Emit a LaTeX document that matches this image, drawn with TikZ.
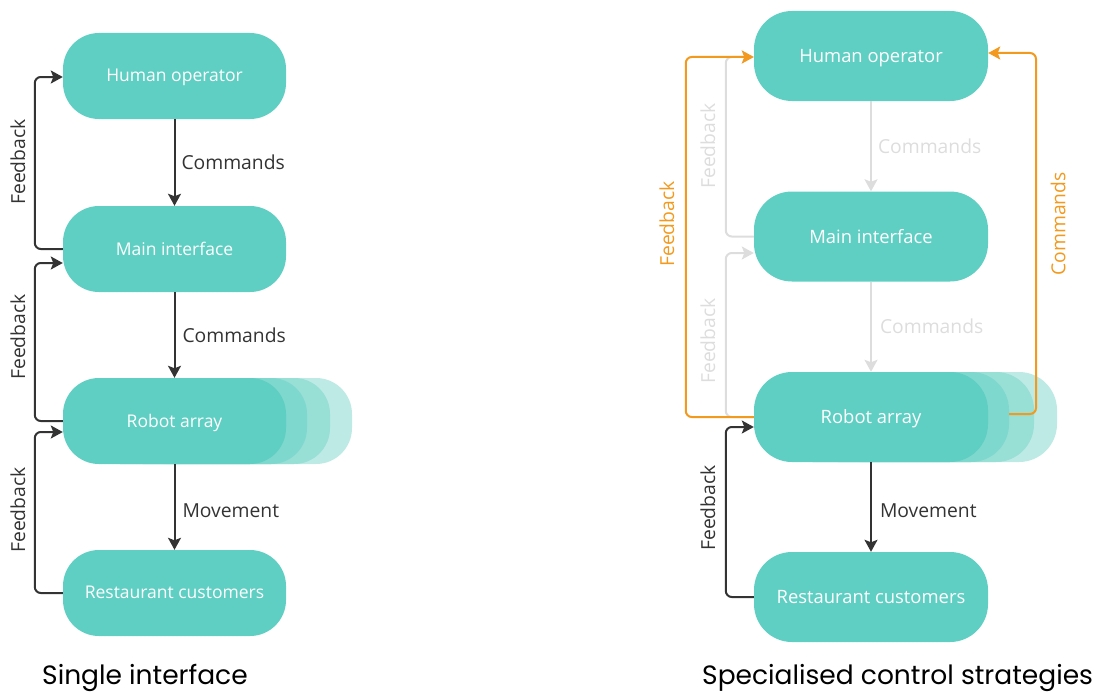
\documentclass[tikz,border=0pt]{standalone}
\usepackage{fontspec}
\usetikzlibrary{arrows.meta,calc}
\newfontfamily\osans{Open Sans}
\newfontfamily\popp{Poppins}
\definecolor{tealA}{HTML}{5FCFC3}
\definecolor{tealB}{HTML}{7FD8CE}
\definecolor{tealC}{HTML}{98DFD6}
\definecolor{tealD}{HTML}{BDEAE4}
\definecolor{darkline}{HTML}{333333}
\definecolor{grayline}{HTML}{DDDDDD}
\definecolor{orangeline}{HTML}{F39A1E}
\begin{document}
\begin{tikzpicture}[x=1pt,y=-1pt,
  boxL/.style={rectangle, rounded corners=36pt, fill=tealA, minimum width=223pt, minimum height=86pt, inner sep=0pt, text=white, text depth=1pt, font=\osans\fontsize{17.5}{20}\selectfont},
  boxR/.style={rectangle, rounded corners=38pt, fill=tealA, minimum width=234pt, minimum height=90pt, inner sep=0pt, text=white, text depth=1pt, font=\osans\fontsize{18.4}{21}\selectfont},
  ghostL/.style={rectangle, rounded corners=36pt, minimum width=223pt, minimum height=86pt, inner sep=0pt},
  ghostR/.style={rectangle, rounded corners=38pt, minimum width=234pt, minimum height=90pt, inner sep=0pt},
  conn/.style={line width=2pt, rounded corners=6pt, -{Stealth[length=12pt,width=13pt,inset=2.5pt]}},
  darkc/.style={conn, draw=darkline},
  grayc/.style={conn, draw=grayline},
  orc/.style={conn, draw=orangeline},
  lbl/.style={font=\osans\fontsize{19.3}{22}\selectfont, text=darkline, inner sep=0pt},
  title/.style={font=\popp\fontsize{26.5}{30}\selectfont, text=black, inner sep=0pt}
]
\useasboundingbox (0,0) rectangle (1100,693);

% ---------------- Left: single interface ----------------
\node[ghostL, fill=tealD] (lra3) at (240.5,421) {};
\node[ghostL, fill=tealC] (lra2) at (218.5,421) {};
\node[ghostL, fill=tealB] (lra1) at (195.5,421) {};
\node[boxL] (lho) at (174.5,76) {Human operator};
\node[boxL] (lmi) at (174.5,249) {Main interface};
\node[boxL] (lra) at (174.5,421) {Robot array};
\node[boxL] (lrc) at (174.5,593) {Restaurant customers};

\draw[darkc] (lho.south) -- (lmi.north) node[lbl, midway, anchor=west, xshift=6pt] {Commands};
\draw[darkc] (lmi.south) -- (lra.north) node[lbl, midway, anchor=west, xshift=7pt] {Commands};
\draw[darkc] (lra.south) -- (lrc.north) node[lbl, midway, anchor=west, xshift=7pt, yshift=-3.5pt] {Movement};

\draw[darkc] (lmi.west) -- ++(-28,0) |- ($(lho.west)+(0,1)$);
\draw[darkc] (lra.west) -- ++(-28,0) |- ($(lmi.west)+(0,14)$);
\draw[darkc] (lrc.west) -- ++(-28,0) |- ($(lra.west)+(0,11)$);
\node[lbl, rotate=90] (lf1) at (18,162) {Feedback};
\node[lbl, rotate=90] (lf2) at (18,337) {Feedback};
\node[lbl, rotate=90] (lf3) at (18,510) {Feedback};

\node[title, anchor=base west] (t1) at (42,684.5) {Single interface};

% ---------------- Right: specialised control strategies ----------------
\node[ghostR, fill=tealD] (rra3) at (940,417) {};
\node[ghostR, fill=tealC] (rra2) at (917,417) {};
\node[ghostR, fill=tealB] (rra1) at (892,417) {};
\node[boxR] (rho) at (871,56) {Human operator};
\node[boxR] (rmi) at (871,236.5) {Main interface};
\node[boxR] (rra) at (871,417) {Robot array};
\node[boxR] (rrc) at (871,597) {Restaurant customers};

\draw[grayc] (rho.south) -- (rmi.north) node[lbl, text=grayline, midway, anchor=west, xshift=6pt] {Commands};
\draw[grayc] (rmi.south) -- (rra.north) node[lbl, text=grayline, midway, anchor=west, xshift=8pt] {Commands};
\draw[darkc] (rra.south) -- (rrc.north) node[lbl, midway, anchor=west, xshift=8pt, yshift=-3.5pt] {Movement};

\draw[grayc] (rmi.west) -- ++(-28,0) |- ($(rho.west)+(0,1)$);
\draw[grayc] (rra.west) -- ++(-28,0) |- ($(rmi.west)+(0,16.5)$);
\node[lbl, text=grayline, rotate=90] (rf1) at (708,146) {Feedback};
\node[lbl, text=grayline, rotate=90] (rf2) at (708,341) {Feedback};

\draw[orc] (rra.west) -- ++(-68,0) |- ($(rho.west)+(0,1)$);
\node[lbl, text=orangeline, rotate=90] (rf3) at (667,224) {Feedback};
\coordinate (cstart) at ($(rra1.east)+(0,-3)$);
\draw[orc] (cstart) -| (1036,100) |- ($(rho.east)+(0,-3)$);
\node[lbl, text=orangeline, rotate=90] (rc1) at (1058,224) {Commands};

\draw[darkc] (rrc.west) -- ++(-28,0) |- ($(rra.west)+(0,10)$);
\node[lbl, rotate=90] (rf4) at (708,508) {Feedback};

\node[title, anchor=base west] (t2) at (702,684.5) {Specialised control strategies};
\end{tikzpicture}
\end{document}
